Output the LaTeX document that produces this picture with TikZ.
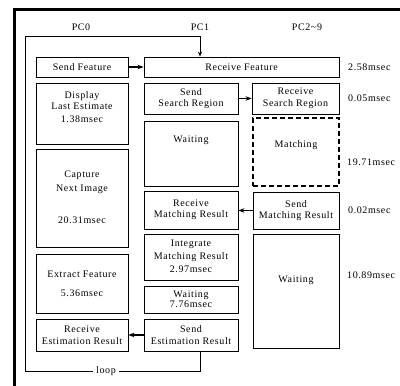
\documentclass[tikz,border=0pt]{standalone}
\usepackage{fontspec}
\setmainfont[LetterSpace=6]{Liberation Serif}
\usetikzlibrary{arrows.meta}
\tikzset{
  box/.style={draw, line width=0.8pt, inner sep=0pt},
  dbox/.style={box, dashed, line width=1.6pt, dash pattern=on 5pt off 3pt},
  txt/.style={font=\fontsize{10}{11.5}\selectfont, align=center, inner sep=0pt},
  msg/.style={line width=1.3pt, -{Stealth[length=6pt,width=4.5pt]}},
  loopline/.style={line width=0.8pt},
}
\newcommand{\bx}[6][box]{%
  \node[#1, minimum width={(#5-#3)*1pt}, minimum height={(#6-#4)*1pt}] (#2) at ({(#3+#5)/2},{(#4+#6)/2}) {};}
\begin{document}
\begin{tikzpicture}[x=1pt,y=-1pt]
\useasboundingbox (0,0) rectangle (400,386);
% outer frame
\draw[line width=3pt] (14.5,386) -- (14.5,9.5) -- (400,9.5);
% headers
\node[txt] (h0) at (81,27) {PC0};
\node[txt] (h1) at (200,27) {PC1};
\node[txt] (h2) at (307,27) {PC2\char"7E 9};
% PC0 column
\bx{sf}{36}{57}{128}{77}
\bx{dle}{36}{83}{128}{144}
\bx{cni}{36}{149}{128}{247}
\bx{ef}{36}{254}{128}{313}
\bx{rer}{36}{319}{128}{351}
% PC1 column
\bx{rf}{144}{57}{339}{77}
\bx{ssr}{144}{83}{238}{114}
\bx{wa}{144}{121}{238}{186}
\bx{rmr}{144}{191}{238}{229}
\bx{imr}{144}{234}{238}{280}
\bx{wb}{144}{286}{238}{313}
\bx{ser}{144}{319}{238}{351}
% PC2~9 column
\bx{rsr}{252}{83}{339}{114}
\bx[dbox]{mat}{253}{118}{339}{186}
\bx{smr}{253}{192}{339}{229}
\bx{wc}{253}{234}{339}{348}
% texts
\node[txt] (tsf) at (sf) {Send Feature};
\node[txt] (tdle) at (82,100.5) {Display\\Last Estimate};
\node[txt] (tdlem) at (82,119) {1.38msec};
\node[txt, font=\fontsize{10}{14}\selectfont] (tcni) at (82,182) {Capture\\Next Image};
\node[txt] (tcnim) at (82,220) {20.31msec};
\node[txt] (tef) at (82,274) {Extract Feature};
\node[txt] (tefm) at (82,293) {5.36msec};
\node[txt] (trer) at (rer) {Receive\\Estimation Result};
\node[txt] (trf) at (rf) {Receive Feature};
\node[txt] (tssr) at (ssr) {Send\\Search Region};
\node[txt] (twa) at (191,140) {Waiting};
\node[txt] (trmr) at (rmr) {Receive\\Matching Result};
\node[txt, font=\fontsize{10}{13}\selectfont] (timr) at (191,256.5) {Integrate\\Matching Result\\2.97msec};
\node[txt, font=\fontsize{10}{10.5}\selectfont] (twb) at (wb) {Waiting\\7.76msec};
\node[txt] (tser) at (ser) {Send\\Estimation Result};
\node[txt] (trsr) at (rsr) {Receive\\Search Region};
\node[txt] (tmat) at (296,145) {Matching};
\node[txt] (tsmr) at (smr) {Send\\Matching Result};
\node[txt] (twc) at (296,280) {Waiting};
% timings
\node[txt, anchor=west] (m1) at (348,67) {2.58msec};
\node[txt, anchor=west] (m2) at (348,98) {0.05msec};
\node[txt, anchor=west] (m3) at (347,162) {19.71msec};
\node[txt, anchor=west] (m4) at (348,210) {0.02msec};
\node[txt, anchor=west] (m5) at (347,275) {10.89msec};
% messages
\draw[msg] (sf.east) -- (rf.west |- sf.east);
\draw[msg] (ssr.east) -- (rsr.west |- ssr.east);
\draw[msg] (smr.west) -- (rmr.east |- smr.west);
\draw[msg] (ser.west) -- (rer.east |- ser.west);
% loop
\coordinate (lb) at (200,371);
\coordinate (lbl) at (25,371);
\coordinate (ltl) at (25,36);
\coordinate (lt) at (200,36);
\draw[loopline] (ser.south -| lb) -- (lb) -- (lbl) -- (ltl) -- (lt);
\draw[loopline, -{Stealth[length=5pt,width=4pt]}] (lt) -- (rf.north -| lt);
\node[txt, fill=white, inner xsep=3pt] (lp) at (106,371) {loop};
\end{tikzpicture}
\end{document}
